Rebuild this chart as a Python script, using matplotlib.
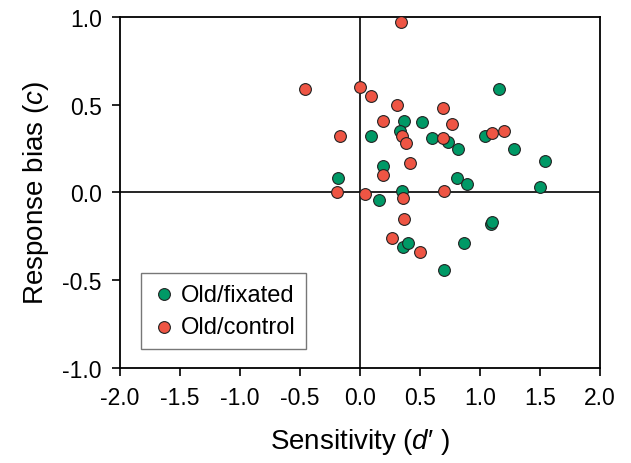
import matplotlib
matplotlib.use("Agg")
import matplotlib.pyplot as plt

plt.rcParams["font.family"] = "Liberation Sans"
plt.rcParams["mathtext.fontset"] = "custom"
plt.rcParams["mathtext.rm"] = "Liberation Sans"
plt.rcParams["mathtext.it"] = "Liberation Sans:italic"

# Old/fixated
fix_d = [1.16, 0.37, 0.52, 0.09, 0.33, 0.60, 0.73, 0.82, 1.04, 1.28, 1.54,
         0.19, -0.18, 0.81, 0.89, 1.50, 0.35, 0.16, 0.36, 0.40, 0.70, 0.87,
         1.09, 1.10]
fix_c = [0.59, 0.41, 0.40, 0.32, 0.35, 0.31, 0.29, 0.25, 0.32, 0.25, 0.18,
         0.15, 0.08, 0.08, 0.05, 0.03, 0.01, -0.04, -0.31, -0.29, -0.44, -0.29,
         -0.18, -0.17]

# Old/control
ctl_d = [0.34, -0.46, 0.00, 0.09, 0.31, 0.69, 0.19, 0.77, -0.17, 0.35, 0.38,
         0.69, 1.10, 1.20, 0.42, 0.19, -0.19, 0.04, 0.36, 0.70, 0.37, 0.27,
         0.50]
ctl_c = [0.97, 0.59, 0.60, 0.55, 0.50, 0.48, 0.41, 0.39, 0.32, 0.32, 0.28,
         0.31, 0.34, 0.35, 0.17, 0.10, 0.00, -0.01, -0.03, 0.01, -0.15, -0.26,
         -0.34]

xticks = [-2.0, -1.5, -1.0, -0.5, 0.0, 0.5, 1.0, 1.5, 2.0]
yticks = [-1.0, -0.5, 0.0, 0.5, 1.0]

fig = plt.figure(figsize=(6.31, 4.64), dpi=100)
ax = fig.add_axes([0.190, 0.205, 0.761, 0.756])

ax.axhline(0, color="black", lw=1.2, zorder=1)
ax.axvline(0, color="black", lw=1.2, zorder=1)

ax.scatter(fix_d, fix_c, s=72, color="#009966", edgecolor="#222222", lw=0.8,
           label="Old/fixated", zorder=3)
ax.scatter(ctl_d, ctl_c, s=72, color="#EE5544", edgecolor="#222222", lw=0.8,
           label="Old/control", zorder=3)

ax.set_xlim(-2.0, 2.0)
ax.set_ylim(-1.0, 1.0)
ax.set_xticks(xticks)
ax.set_yticks(yticks)
ax.set_xticklabels(["%.1f" % v for v in xticks])
ax.set_yticklabels(["%.1f" % v for v in yticks])
ax.tick_params(direction="out", length=6, width=1.2, labelsize=16.5,
               pad=7, top=False, right=False)
for sp in ax.spines.values():
    sp.set_linewidth(1.3)

ax.set_xlabel("Sensitivity ($\\mathit{d}$\u2032 )", fontsize=20, labelpad=12)
ax.set_ylabel("Response bias ($\\mathit{c}$)", fontsize=20, labelpad=8)

leg = ax.legend(loc="lower left", bbox_to_anchor=(0.045, 0.054),
                borderaxespad=0, fontsize=17, frameon=True, fancybox=False,
                edgecolor="#555555", handletextpad=0.2, borderpad=0.45,
                handlelength=1.0, labelspacing=0.45)
leg.get_frame().set_linewidth(1.0)

plt.savefig("out.png", dpi=100)
plt.close()
